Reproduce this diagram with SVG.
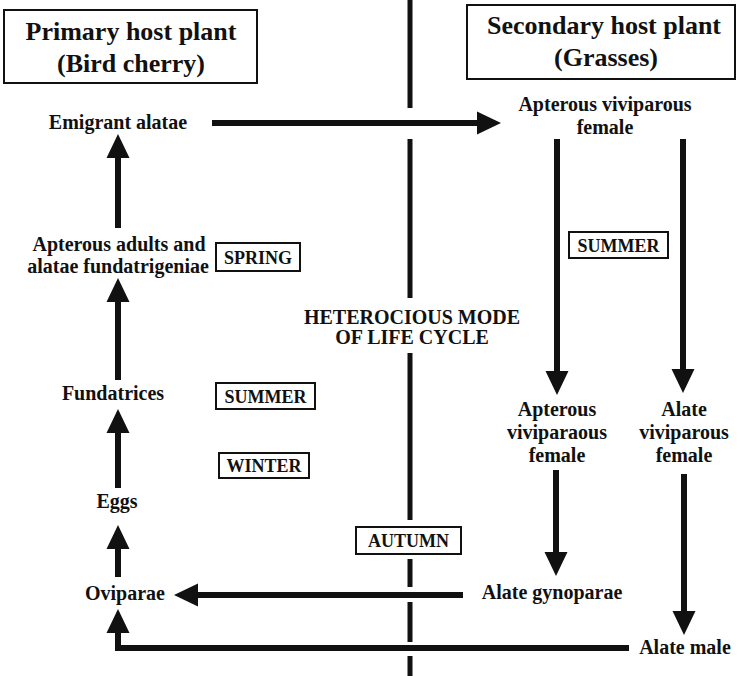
<svg xmlns="http://www.w3.org/2000/svg" width="737" height="676" viewBox="0 0 737 676">
<style>
text{font-family:"Liberation Serif","Times New Roman",serif;font-weight:bold;fill:#111;text-anchor:middle}
.h{font-size:26px}
.l{font-size:20px}
.s{font-size:18px}
.box{fill:#fff;stroke:#111;stroke-width:2}
.c{fill:none;stroke:#111;stroke-width:6}
.div{stroke:#111;stroke-width:5}
</style>
<defs>
<marker id="ah" markerUnits="userSpaceOnUse" markerWidth="26" markerHeight="24" refX="1" refY="11.5" orient="auto" viewBox="0 0 26 23">
<path d="M0,0 L24,11.5 L0,23 z" fill="#111"/>
</marker>
</defs>
<g id="divider">
<line class="div" x1="410" y1="0" x2="410" y2="108"/>
<line class="div" x1="410" y1="139" x2="410" y2="298"/>
<line class="div" x1="410" y1="353" x2="410" y2="520"/>
<line class="div" x1="410" y1="559" x2="410" y2="587"/>
<line class="div" x1="410" y1="602" x2="410" y2="642"/>
<line class="div" x1="410" y1="656" x2="410" y2="676"/>
</g>
<g id="connectors">
<path class="c" d="M118,228 V157" marker-end="url(#ah)"/>
<path class="c" d="M118,380 V301" marker-end="url(#ah)"/>
<path class="c" d="M118,488 V432" marker-end="url(#ah)"/>
<path class="c" d="M118,577 V548" marker-end="url(#ah)"/>
<path class="c" d="M629,648 H118 V632" marker-end="url(#ah)"/>
<path class="c" d="M463,595 H197" marker-end="url(#ah)"/>
<path class="c" d="M212,123 H478" marker-end="url(#ah)"/>
<path class="c" d="M557,139 V372" marker-end="url(#ah)"/>
<path class="c" d="M683,139 V370" marker-end="url(#ah)"/>
<path class="c" d="M556,470 V553" marker-end="url(#ah)"/>
<path class="c" d="M684,474 V612" marker-end="url(#ah)"/>
</g>
<g id="primary-host">
<rect class="box" x="4" y="10" width="253" height="73"/>
<text class="h" x="131" y="40">Primary host plant</text>
<text class="h" x="131" y="72">(Bird cherry)</text>
</g>
<g id="secondary-host">
<rect class="box" x="467" y="5" width="268" height="74"/>
<text class="h" x="604" y="34">Secondary host plant</text>
<text class="h" x="606" y="66">(Grasses)</text>
</g>
<g id="emigrant-alatae"><text class="l" x="118" y="129">Emigrant alatae</text></g>
<g id="apterous-adults">
<text class="l" x="119" y="251">Apterous adults and</text>
<text class="l" x="118" y="273">alatae fundatrigeniae</text>
</g>
<g id="fundatrices"><text class="l" x="113" y="400">Fundatrices</text></g>
<g id="eggs"><text class="l" x="117" y="508">Eggs</text></g>
<g id="oviparae"><text class="l" x="125" y="600">Oviparae</text></g>
<g id="apterous-viviparous-top">
<text class="l" x="605" y="111">Apterous viviparous</text>
<text class="l" x="605" y="134">female</text>
</g>
<g id="apterous-viviparaous">
<text class="l" x="557" y="416">Apterous</text>
<text class="l" x="557" y="439">viviparaous</text>
<text class="l" x="557" y="462">female</text>
</g>
<g id="alate-viviparous">
<text class="l" x="684" y="416">Alate</text>
<text class="l" x="684" y="439">viviparous</text>
<text class="l" x="684" y="462">female</text>
</g>
<g id="alate-gynoparae"><text class="l" x="552" y="599">Alate gynoparae</text></g>
<g id="alate-male"><text class="l" x="685" y="654">Alate male</text></g>
<g id="heterocious">
<text class="l" x="412" y="324">HETEROCIOUS MODE</text>
<text class="l" x="412" y="344">OF LIFE CYCLE</text>
</g>
<g id="spring">
<rect class="box" x="216" y="243" width="84" height="28"/>
<text class="s" x="258" y="264">SPRING</text>
</g>
<g id="summer-left">
<rect class="box" x="216" y="383" width="99" height="26"/>
<text class="s" x="265.5" y="403">SUMMER</text>
</g>
<g id="winter">
<rect class="box" x="219" y="453" width="90" height="25"/>
<text class="s" x="264" y="472">WINTER</text>
</g>
<g id="summer-right">
<rect class="box" x="569" y="232" width="99" height="26"/>
<text class="s" x="618.5" y="252">SUMMER</text>
</g>
<g id="autumn">
<rect class="box" x="356" y="527" width="105" height="27"/>
<text class="s" x="408.5" y="547">AUTUMN</text>
</g>
</svg>
